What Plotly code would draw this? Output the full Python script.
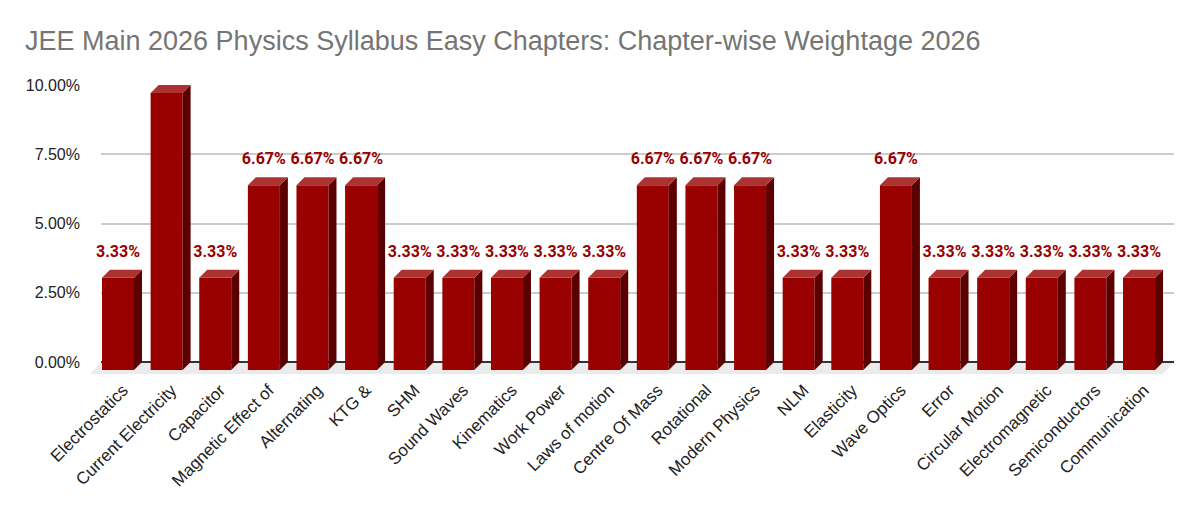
import plotly.graph_objects as go

chapters = ["Electrostatics", "Current Electricity", "Capacitor", "Magnetic Effect of", "Alternating", "KTG &",
            "SHM", "Sound Waves", "Kinematics", "Work Power", "Laws of motion", "Centre Of Mass", "Rotational",
            "Modern Physics", "NLM", "Elasticity", "Wave Optics", "Error", "Circular Motion", "Electromagnetic",
            "Semiconductors", "Communication"]
weightage = [3.33, 10.00, 3.33, 6.67, 6.67, 6.67, 3.33, 3.33, 3.33, 3.33, 3.33, 6.67, 6.67, 6.67, 3.33, 3.33, 6.67,
             3.33, 3.33, 3.33, 3.33, 3.33]
y_ticks = [0, 2.5, 5, 7.5, 10]
y_tick_labels = ["0.00%", "2.50%", "5.00%", "7.50%", "10.00%"]

# the page puts the figure 8px in from the top left corner
page = 8
# pixel geometry of the plot area, in window pixels
left, right, top, bottom = 101, 1174, 84.5, 376
pitch = 48.62
y_scale = 27.75
depth_x = 8 / pitch
depth_y = 8 / y_scale
bar_w = 32 / pitch
label_gap = 9 / y_scale
tick_shift = 3 / pitch
idx = list(range(len(chapters)))

side_x, side_y, top_x, top_y = [], [], [], []
for i, v in zip(idx, weightage):
    l = i - depth_x - bar_w / 2
    r = l + bar_w
    side_x += [r, r + depth_x, r + depth_x, r, None]
    side_y += [-depth_y, 0, v, v - depth_y, None]
    top_x += [l, r, r + depth_x, l + depth_x, None]
    top_y += [v - depth_y, v - depth_y, v, v, None]

fig = go.Figure()
fig.add_trace(go.Bar(x=[i - depth_x for i in idx], y=weightage, base=-depth_y, width=bar_w,
                     marker=dict(color="#990000", line=dict(width=0))))
fig.add_trace(go.Scatter(x=side_x, y=side_y, mode="lines", fill="toself", fillcolor="#5b0000",
                         line=dict(width=0), hoverinfo="skip"))
fig.add_trace(go.Scatter(x=top_x, y=top_y, mode="lines", fill="toself", fillcolor="#ad3333",
                         line=dict(width=0), hoverinfo="skip"))
fig.add_trace(go.Scatter(x=[i - depth_x for i in idx], y=[v + label_gap for v in weightage], mode="text",
                         text=[f"{v:.2f}%" for v in weightage], textposition="top center", cliponaxis=False,
                         textfont=dict(family="Roboto", size=16, color="#990000", weight="bold")))

# floor under the bars, sticks out past the left edge of the grid
w = right - left
h = bottom - top
fig.add_shape(type="path", xref="paper", yref="paper", layer="below", line_width=0, fillcolor="#ebebeb",
              path=f"M 0 {(bottom - 362) / h} L 1 {(bottom - 362) / h} "
                   f"L {(1163 - left) / w} {(bottom - 374) / h} L {(90 - left) / w} {(bottom - 374) / h} Z")

fig.update_layout(
    width=1200 - page, height=510 - page, showlegend=False, plot_bgcolor="white", paper_bgcolor="white",
    margin=dict(l=left - page, r=1200 - right, t=top - page, b=510 - bottom, autoexpand=False),
    title=dict(text="JEE Main 2026 Physics Syllabus Easy Chapters: Chapter-wise Weightage 2026",
               x=(25 - page) / (1200 - page), xanchor="left",
               y=1 - (41 - page) / (510 - page), yanchor="middle",
               font=dict(family="Liberation Sans", size=27, color="#757575")),
    xaxis=dict(range=[(left - 126) / pitch, (right - 126) / pitch], tickmode="array",
               tickvals=[i - tick_shift for i in idx], ticktext=chapters,
               tickangle=-45, showgrid=False, zeroline=False, ticks="", showline=False,
               tickfont=dict(family="Liberation Sans", size=17, color="#222222")),
    yaxis=dict(range=[(362 - bottom) / y_scale, (362 - top) / y_scale], tickmode="array", tickvals=y_ticks,
               ticktext=y_tick_labels, showgrid=True, gridcolor="#cccccc", gridwidth=1.5, zeroline=True,
               zerolinecolor="#333333", zerolinewidth=1.5, ticks="", ticklabelstandoff=20,
               tickfont=dict(family="Liberation Sans", size=16, color="#222222")),
)

fig.write_html("out.html")
